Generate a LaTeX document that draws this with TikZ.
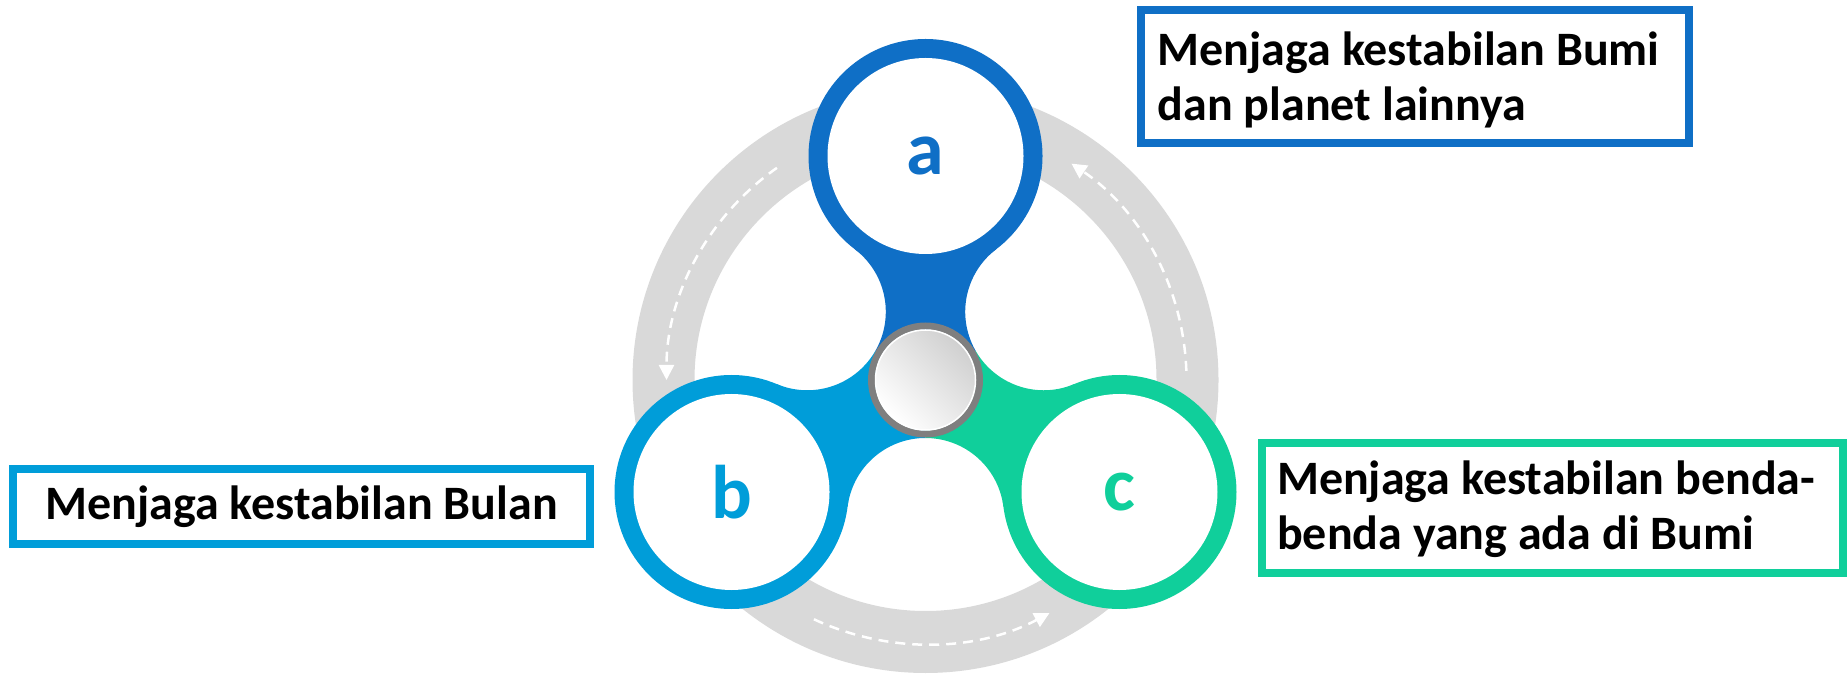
\documentclass[tikz,border=0pt]{standalone}
\usepackage{fontspec}
\setmainfont{Carlito}
\usetikzlibrary{arrows.meta,calc}
\definecolor{armA}{HTML}{0F6FC6}
\definecolor{armB}{HTML}{009DD9}
\definecolor{armC}{HTML}{10CF9B}
\definecolor{track}{HTML}{D9D9D9}
\definecolor{hubring}{HTML}{7F7F7F}
\definecolor{hubshade}{HTML}{D0D0D0}

\begin{document}
\begin{tikzpicture}[x=0.5pt,y=0.5pt,
  labelbox/.style={draw=#1, line width=4pt, inner sep=0pt, fill=white},
  labeltext/.style={font=\fontsize{24}{27.5}\selectfont\bfseries, align=left, inner sep=0pt},
  letter/.style={font=\fontsize{38}{40}\selectfont\bfseries, text=#1, inner sep=0pt},
  flow/.style={white, line width=1.25pt, dash pattern=on 5pt off 3.5pt,
               -{Triangle[length=7.5pt,width=7.5pt]}}
]
\useasboundingbox (0,0) rectangle (1847,675);

\coordinate (hub) at (925.5,295);

\begin{scope}[shift={(hub)}]
  % grey circular track with its flow arrows
  \draw[track, line width=31pt] (0,0) circle (262);
  \draw[flow] (125:259) arc[start angle=125, end angle=180, radius=259];
  \draw[flow] (2:261) arc[start angle=2, end angle=56, radius=261];
  \draw[flow] (245:264) arc[start angle=245, end angle=298, radius=264];

  % arm centres
  \coordinate (A) at (90:224);
  \coordinate (B) at (210:224);
  \coordinate (C) at (330:224);

  % spinner core: hub-to-arm region with concave cut-outs between arms
  \path[save path=\spinnercore]
    ($(150:136.5)+(412.8:78.5)$) arc[start angle=412.8, end angle=247.2, radius=78.5]
    -- (B) -- ($(270:136.5)+(532.8:78.5)$) arc[start angle=532.8, end angle=367.2, radius=78.5]
    -- (C) -- ($(30:136.5)+(652.8:78.5)$) arc[start angle=652.8, end angle=487.2, radius=78.5]
    -- (A) -- cycle;

  \begin{scope}
    \clip (0,0) -- (30:700) -- (90:700) -- (150:700) -- cycle;
    \fill[armA, use path=\spinnercore];
  \end{scope}
  \begin{scope}
    \clip (0,0) -- (150:700) -- (210:700) -- (270:700) -- cycle;
    \fill[armB, use path=\spinnercore];
  \end{scope}
  \begin{scope}
    \clip (0,0) -- (270:700) -- (330:700) -- (390:700) -- cycle;
    \fill[armC, use path=\spinnercore];
  \end{scope}

  % ring-shaped ends of the arms
  \foreach \p/\col in {A/armA, B/armB, C/armC}{
    \fill[\col] (\p) circle (117);
    \fill[white] (\p) circle (98);
  }
  \node[letter=armA] (la) at (A) {a};
  \node[letter=armB] (lb) at (B) {b};
  \node[letter=armC] (lc) at (C) {c};

  % central bearing
  \draw[hubring, line width=3.5pt] (0,0) circle (54);
  \shade[top color=hubshade, bottom color=white, shading angle=-45] (0,0) circle (50.5);
  \draw[white, line width=0.75pt] (0,0) circle (50);
\end{scope}

% description boxes
\node[labelbox=armA, minimum width=273.85pt, minimum height=66.5pt] (boxA) at (1415.2,598.5) {};
\node[labeltext, anchor=west] (textA) at ($(boxA.west)+(20,-3)$) {Menjaga kestabilan Bumi\\dan planet lainnya};

\node[labelbox=armB, minimum width=288.15pt, minimum height=37.5pt] (boxB) at (301.55,168.2) {};
\node[labeltext] (textB) at (boxB.center) {Menjaga kestabilan Bulan};

\node[labelbox=armC, minimum width=290.75pt, minimum height=64.9pt] (boxC) at (1552.25,166.6) {};
\node[labeltext, anchor=west] (textC) at ($(boxC.west)+(19.2,-1)$) {Menjaga kestabilan benda-\\benda yang ada di Bumi};
\end{tikzpicture}
\end{document}
